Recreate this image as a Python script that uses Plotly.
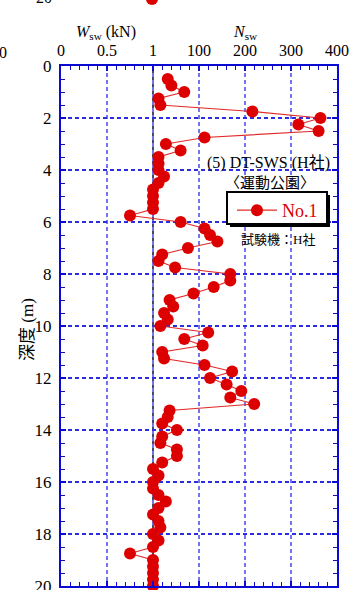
import plotly.graph_objects as go

# Swedish weight sounding (SWS) profile, borehole No.1
depth_m = [
    0.5, 0.75, 1.0, 1.25, 1.5, 1.75, 2.0, 2.25, 2.5, 2.75,
    3.0, 3.25, 3.5, 3.75, 4.0, 4.25, 4.5, 4.75, 5.0, 5.25,
    5.5, 5.75, 6.0, 6.25, 6.5, 6.75, 7.0, 7.25, 7.5, 7.75,
    8.0, 8.25, 8.5, 8.75, 9.0, 9.25, 9.5, 9.75, 10.0, 10.25,
    10.5, 10.75, 11.0, 11.25, 11.5, 11.75, 12.0, 12.25, 12.5, 12.75,
    13.0, 13.25, 13.5, 13.75, 14.0, 14.25, 14.5, 14.75, 15.0, 15.25,
    15.5, 15.75, 16.0, 16.25, 16.5, 16.75, 17.0, 17.25, 17.5, 17.75,
    18.0, 18.25, 18.5, 18.75, 19.0, 19.25, 19.5, 19.75, 20.0,
]
# load W_sw (kN): 1 kN unless the rod sank under a smaller load
wsw_kn = [1.0] * len(depth_m)
wsw_kn[depth_m.index(5.75)] = 0.75
wsw_kn[depth_m.index(18.75)] = 0.75
# half-turns per metre N_sw
nsw = [
    32, 40, 68, 12, 16, 216, 364, 316, 360, 112,
    28, 60, 12, 12, 12, 24, 12, 0, 0, 0,
    0, 0, 60, 112, 124, 140, 76, 20, 12, 48,
    168, 168, 132, 88, 36, 44, 24, 32, 16, 120,
    68, 108, 20, 24, 112, 172, 124, 160, 192, 168,
    220, 36, 32, 20, 52, 20, 16, 52, 52, 20,
    0, 12, 0, 0, 12, 28, 12, 0, 12, 16,
    0, 12, 0, 0, 0, 0, 0, 0, 0,
]

# combined horizontal scale: W_sw 0-1 kN on the left third, N_sw 0-400 on the rest
tick_pos = [0, 1, 2, 3, 4, 5, 6]
tick_text = ["0", "0.5", "1", "100", "200", "300", "400"]


def to_scale(w, n):
    return 2 + n / 100 if n > 0 else 2 * w


x_vals = [to_scale(w, n) for w, n in zip(wsw_kn, nsw)]

W, H = 350, 590
ML, MR, MT, MB = 61, 13, 66, 4
PW, PH = W - ML - MR, H - MT - MB


def px(x):
    return (x - ML) / PW


def py(y):
    return 1 - (y - MT) / PH


BLUE = "#0a0ad2"
RED = "#dd0000"
FONT = "'Liberation Serif', 'Times New Roman', 'Noto Sans CJK JP', serif"

fig = go.Figure()
fig.add_trace(go.Scatter(
    x=x_vals, y=depth_m, mode="lines+markers", name="No.1",
    line=dict(color="#e22a2a", width=1.2),
    marker=dict(color=RED, size=12, line=dict(width=0)),
    cliponaxis=False,
))

fig.update_layout(
    width=W, height=H,
    margin=dict(l=ML, r=MR, t=MT, b=MB, autoexpand=False),
    paper_bgcolor="white", plot_bgcolor="white",
    font=dict(family=FONT, size=16, color="black"),
    showlegend=True,
    legend=dict(
        x=px(232), y=py(192), xanchor="left", yanchor="top",
        bgcolor="rgba(0,0,0,0)", borderwidth=0,
        font=dict(family=FONT, size=18, color=RED),
        itemwidth=40, tracegroupgap=0,
    ),
)

fig.update_xaxes(
    range=[0, 6], side="top", automargin=False,
    tickvals=tick_pos, ticktext=tick_text,
    ticks="inside", ticklen=5, tickcolor=BLUE, tickwidth=1.5,
    showline=True, linecolor=BLUE, linewidth=2, mirror="ticks",
    showgrid=True, gridcolor="#7474ee", gridwidth=1.5, griddash="4px,3px",
    zeroline=False, ticklabelstandoff=2, ticklabeloverflow="allow",
    tickfont=dict(family=FONT, size=16),
    minor=dict(dtick=0.2, tick0=0, ticks="inside", ticklen=4,
               tickcolor=BLUE, tickwidth=1.2, showgrid=False),
)
fig.update_yaxes(
    range=[20, 0], tick0=0, dtick=2, automargin=False,
    ticks="inside", ticklen=5, tickcolor=BLUE, tickwidth=1.5,
    showline=True, linecolor=BLUE, linewidth=2, mirror="ticks",
    showgrid=True, gridcolor="#2c2ce0", gridwidth=1.5, griddash="4px,3px",
    zeroline=False, ticklabelstandoff=4, ticklabeloverflow="allow",
    tickfont=dict(family=FONT, size=17),
    minor=dict(dtick=0.5, tick0=0, ticks="inside", ticklen=4,
               tickcolor=BLUE, tickwidth=1.2, showgrid=False),
)

# reference line at W_sw = 1 kN / N_sw = 0
fig.add_shape(type="line", xref="x", yref="paper", x0=2, x1=2, y0=0, y1=1,
              line=dict(color="#4a4a5e", width=2), layer="below")

# legend frame with drop shadow
fig.add_shape(type="rect", xref="paper", yref="paper",
              x0=px(230), x1=px(330), y0=py(227), y1=py(195),
              fillcolor="black", line=dict(width=0), layer="above")
fig.add_shape(type="rect", xref="paper", yref="paper",
              x0=px(227), x1=px(327), y0=py(224), y1=py(192),
              fillcolor="white", line=dict(color="black", width=2),
              layer="above")

notes = [
    ("<i>W</i><sub>sw</sub> (kN)", 106, 32, 16, 0),
    ("<i>N</i><sub>sw</sub>", 245, 32, 16, 0),
    ("(5) DT-SWS (H社)", 268, 163, 16, 0),
    ("〈運動公園〉", 270, 183, 15, 0),
    ("試験機：H社", 278, 240, 13, 0),
    ("深度 (m)", 27, 330, 17, -90),
    ("20", 44, -3, 16, 0),
    ("0", 3, 52, 16, 0),
]
for text, x, y, size, ang in notes:
    fig.add_annotation(
        text=text, xref="paper", yref="paper", x=px(x), y=py(y),
        xanchor="center", yanchor="middle", showarrow=False,
        textangle=ang, font=dict(family=FONT, size=size, color="black"),
    )

# marker of the neighbouring panel peeking in at the top edge
fig.add_shape(type="circle", xref="paper", yref="paper",
              x0=px(146), x1=px(158), y0=py(5), y1=py(-7),
              fillcolor=RED, line=dict(width=0))

fig.write_html("out.html")
